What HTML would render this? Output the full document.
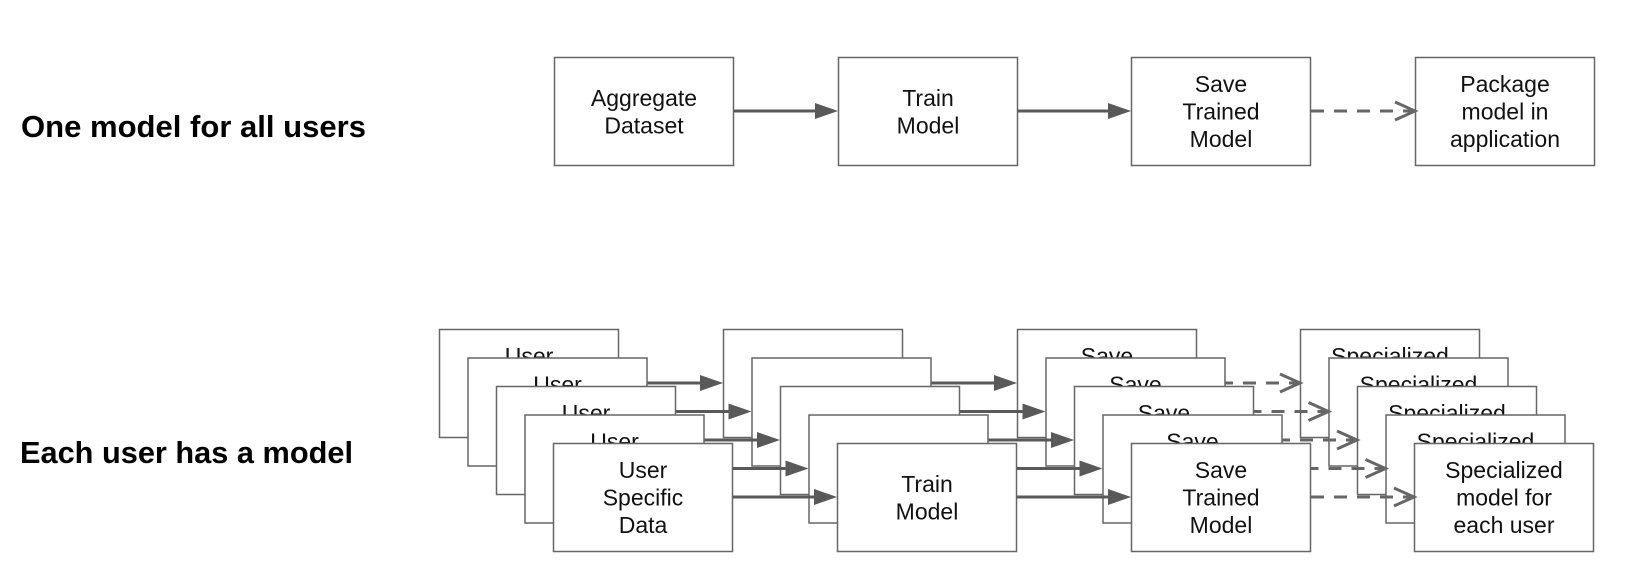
<!DOCTYPE html>
<html><head><meta charset="utf-8">
<style>
html,body{margin:0;padding:0;background:#fff;}
svg{display:block;}
text{font-family:"Liberation Sans",Arial,sans-serif;}
</style></head>
<body>
<svg width="1630" height="578" viewBox="0 0 1630 578" xmlns="http://www.w3.org/2000/svg">
<defs>
<g id="solid"><line x1="0" y1="0" x2="-20" y2="0" stroke="#595959" stroke-width="3"/></g>
</defs>
<rect width="1630" height="578" fill="#fff"/>
<text x="21" y="137" font-size="31" font-weight="bold" fill="#000" textLength="345" lengthAdjust="spacingAndGlyphs">One model for all users</text>
<text x="20" y="463" font-size="31" font-weight="bold" fill="#000" textLength="333" lengthAdjust="spacingAndGlyphs">Each user has a model</text>
<g id="content"></g>
</svg>
<script>
const NS="http://www.w3.org/2000/svg";
const g=document.getElementById("content");
function el(t,a,txt){const e=document.createElementNS(NS,t);for(const k in a)e.setAttribute(k,a[k]);if(txt!==undefined)e.textContent=txt;g.appendChild(e);return e;}
function box(x,y,lines){
  el("rect",{x:x+0.5,y:y+0.5,width:179,height:108,fill:"#fff",stroke:"#666",'stroke-width':1.5});
  const cx=x+90,cy=y+54.5,n=lines.length;
  lines.forEach((l,i)=>{const c=cy+(i-(n-1)/2)*27.5;el("text",{x:cx,y:c+8,'font-size':23,'text-anchor':'middle',fill:"#111"},l);});
}
function solid(x1,x2,y){
  el("line",{x1:x1,y1:y,x2:x2-20,y2:y,stroke:"#595959",'stroke-width':3});
  el("polygon",{points:`${x2},${y} ${x2-23},${y-8} ${x2-23},${y+8}`,fill:"#595959"});
}
function dashed(x1,x2,y){
  el("line",{x1:x1,y1:y,x2:x2-3,y2:y,stroke:"#666",'stroke-width':3,'stroke-dasharray':"13 10"});
  el("polyline",{points:`${x2-20},${y-9} ${x2},${y} ${x2-20},${y+9}`,fill:"none",stroke:"#666",'stroke-width':3});
}
// top row
box(554,57,["Aggregate","Dataset"]);
box(838,57,["Train","Model"]);
box(1131,57,["Save","Trained","Model"]);
box(1415,57,["Package","model in","application"]);
solid(734,838,111);solid(1018,1131,111);dashed(1311,1415,111);
// bottom stacks
for(let i=0;i<5;i++){
  const o=28.5*i, y=329+o;
  box(439+o,y,["User","Specific","Data"]);
  box(723+o,y,["Train","Model"]);
  box(1017+o,y,["Save","Trained","Model"]);
  box(1300+o,y,["Specialized","model for","each user"]);
  const ay=y+54;
  solid(619+o,723+o,ay);
  solid(903+o,1017+o,ay);
  dashed(1197+o,1300+o,ay);
}
</script>
</body></html>
